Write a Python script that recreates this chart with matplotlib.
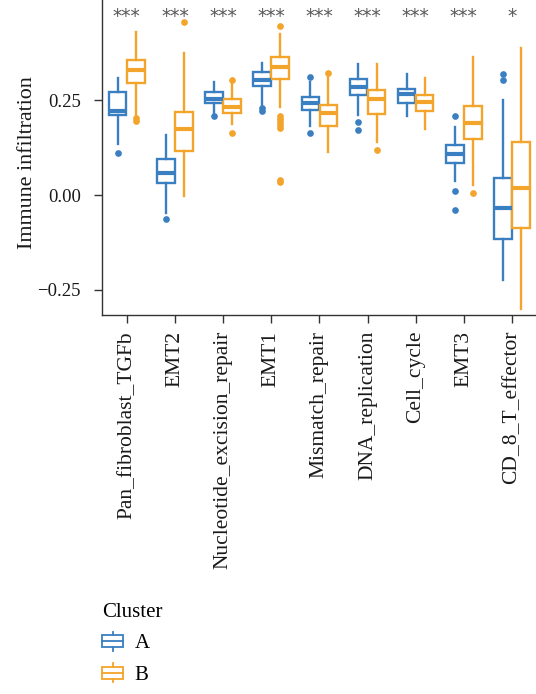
import matplotlib
matplotlib.use("Agg")
import matplotlib.pyplot as plt
from matplotlib.patches import Rectangle, Patch
from matplotlib.lines import Line2D
from matplotlib.legend_handler import HandlerBase

plt.rcParams['font.family'] = ['Liberation Serif', 'DejaVu Serif']

categories = ["Pan_fibroblast_TGFb", "EMT2", "Nucleotide_excision_repair", "EMT1",
              "Mismatch_repair", "DNA_replication", "Cell_cycle", "EMT3", "CD_8_T_effector"]
signif = ["***", "***", "***", "***", "***", "***", "***", "***", "*"]

# Cluster A (blue)
a_whishi = [0.308, 0.158, 0.298, 0.347, 0.298, 0.344, 0.318, 0.180, 0.250]
a_q3     = [0.272, 0.094, 0.270, 0.323, 0.257, 0.305, 0.278, 0.132, 0.045]
a_med    = [0.222, 0.057, 0.253, 0.303, 0.241, 0.285, 0.266, 0.108, -0.035]
a_q1     = [0.210, 0.032, 0.243, 0.287, 0.225, 0.263, 0.243, 0.085, -0.117]
a_whislo = [0.133, -0.048, 0.208, 0.234, 0.182, 0.211, 0.208, 0.038, -0.225]
a_fliers = [[0.111], [-0.063], [0.208], [0.228, 0.222], [0.311, 0.162],
            [0.193, 0.171], [], [0.208, 0.011, -0.039], [0.318, 0.303]]

# Cluster B (orange)
b_whishi = [0.428, 0.373, 0.303, 0.425, 0.320, 0.344, 0.307, 0.364, 0.386]
b_q3     = [0.356, 0.219, 0.252, 0.362, 0.236, 0.276, 0.263, 0.234, 0.140]
b_med    = [0.328, 0.175, 0.232, 0.338, 0.215, 0.253, 0.246, 0.190, 0.019]
b_q1     = [0.295, 0.117, 0.215, 0.305, 0.182, 0.212, 0.221, 0.147, -0.086]
b_whislo = [0.211, -0.003, 0.187, 0.232, 0.114, 0.140, 0.175, 0.026, -0.300]
b_fliers = [[0.203, 0.196], [0.454], [0.303, 0.164],
            [0.446, 0.208, 0.200, 0.192, 0.185, 0.177, 0.040, 0.035],
            [0.320], [0.118], [], [0.006], []]

groups = ["A", "B"]
colors = ["#3A7FC1", "#F3A42A"]

W, H = 536, 694
fig = plt.figure(figsize=(W / 100, H / 100), dpi=100)
ax_left, ax_right = 101.7, 537.0
ax_top, ax_bottom = 0.0, 315.0
ax = fig.add_axes([ax_left / W, 1 - ax_bottom / H, (ax_right - ax_left) / W, (ax_bottom - ax_top) / H])

def stats(whishi, q3, med, q1, whislo, fliers):
    return [dict(med=m, q1=a, q3=b, whislo=lo, whishi=hi, fliers=f)
            for hi, b, m, a, lo, f in zip(whishi, q3, med, q1, whislo, fliers)]

data = [stats(a_whishi, a_q3, a_med, a_q1, a_whislo, a_fliers),
        stats(b_whishi, b_q3, b_med, b_q1, b_whislo, b_fliers)]

width = 0.375
for gi, (st, col) in enumerate(zip(data, colors)):
    pos = [i + (gi - 0.5) * width for i in range(len(categories))]
    ax.bxp(st, positions=pos, widths=width * 0.97, patch_artist=True, showcaps=False,
           boxprops=dict(facecolor="white", edgecolor=col, linewidth=1.7),
           medianprops=dict(color=col, linewidth=3.0, solid_capstyle="butt"),
           whiskerprops=dict(color=col, linewidth=1.7),
           flierprops=dict(marker="o", markersize=3.8, markerfacecolor=col,
                           markeredgecolor=col, linestyle="none"),
           manage_ticks=False)

for i, s in enumerate(signif):
    ax.text(i, 0.455, s, ha="center", va="baseline", fontsize=13.5, color="#555555",
            family="DejaVu Sans")

ax.set_xlim(-0.52, 8.52)
ax.set_ylim(-0.3158, 0.5132)
ax.set_xticks(range(len(categories)))
ax.set_xticklabels(categories, rotation=90, fontsize=15.5)
ax.set_yticks([-0.25, 0.0, 0.25])
ax.set_yticklabels(["\u22120.25", "0.00", "0.25"], fontsize=13.5)
ax.tick_params(axis="both", length=6, width=1.0, color="#333333", labelcolor="#1a1a1a")
ax.tick_params(axis="x", pad=5.5)
ax.tick_params(axis="y", pad=9)
for sp in ["top", "right"]:
    ax.spines[sp].set_visible(False)
for sp in ["left", "bottom"]:
    ax.spines[sp].set_linewidth(1.0)
    ax.spines[sp].set_color("#333333")

ax.set_ylabel("Immune infiltration", fontsize=15.8, color="#1a1a1a")
ax.yaxis.label.set_va("center")
ax.yaxis.set_label_coords((28 - ax_left) / (ax_right - ax_left), (ax_bottom - 162.5) / (ax_bottom - ax_top))


class BoxHandler(HandlerBase):
    def create_artists(self, legend, orig_handle, xdescent, ydescent, width, height, fontsize, trans):
        col = orig_handle.get_edgecolor()
        cx = width / 2 - xdescent
        bh = height * 0.62
        y0 = (height - bh) / 2 - ydescent
        rect = Rectangle((-xdescent, y0), width, bh, facecolor="white", edgecolor=col,
                         linewidth=1.3, transform=trans)
        mid = Line2D([-xdescent, width - xdescent], [height / 2 - ydescent] * 2,
                     color=col, linewidth=1.3, transform=trans)
        w1 = Line2D([cx, cx], [-ydescent, y0], color=col, linewidth=1.3, transform=trans)
        w2 = Line2D([cx, cx], [y0 + bh, height - ydescent], color=col, linewidth=1.3, transform=trans)
        return [rect, mid, w1, w2]


handles = [Patch(facecolor="white", edgecolor=c) for c in colors]
leg = fig.legend(handles, groups, title="Cluster", loc="upper left",
                 bbox_to_anchor=(94 / W, 1 - 595 / H), frameon=False, fontsize=15,
                 title_fontsize=15, alignment="left", handlelength=1.0, handleheight=1.05,
                 handletextpad=0.55, labelspacing=0.45, borderaxespad=0,
                 handler_map={Patch: BoxHandler()})

fig.savefig("out.png", dpi=100, facecolor="white")
